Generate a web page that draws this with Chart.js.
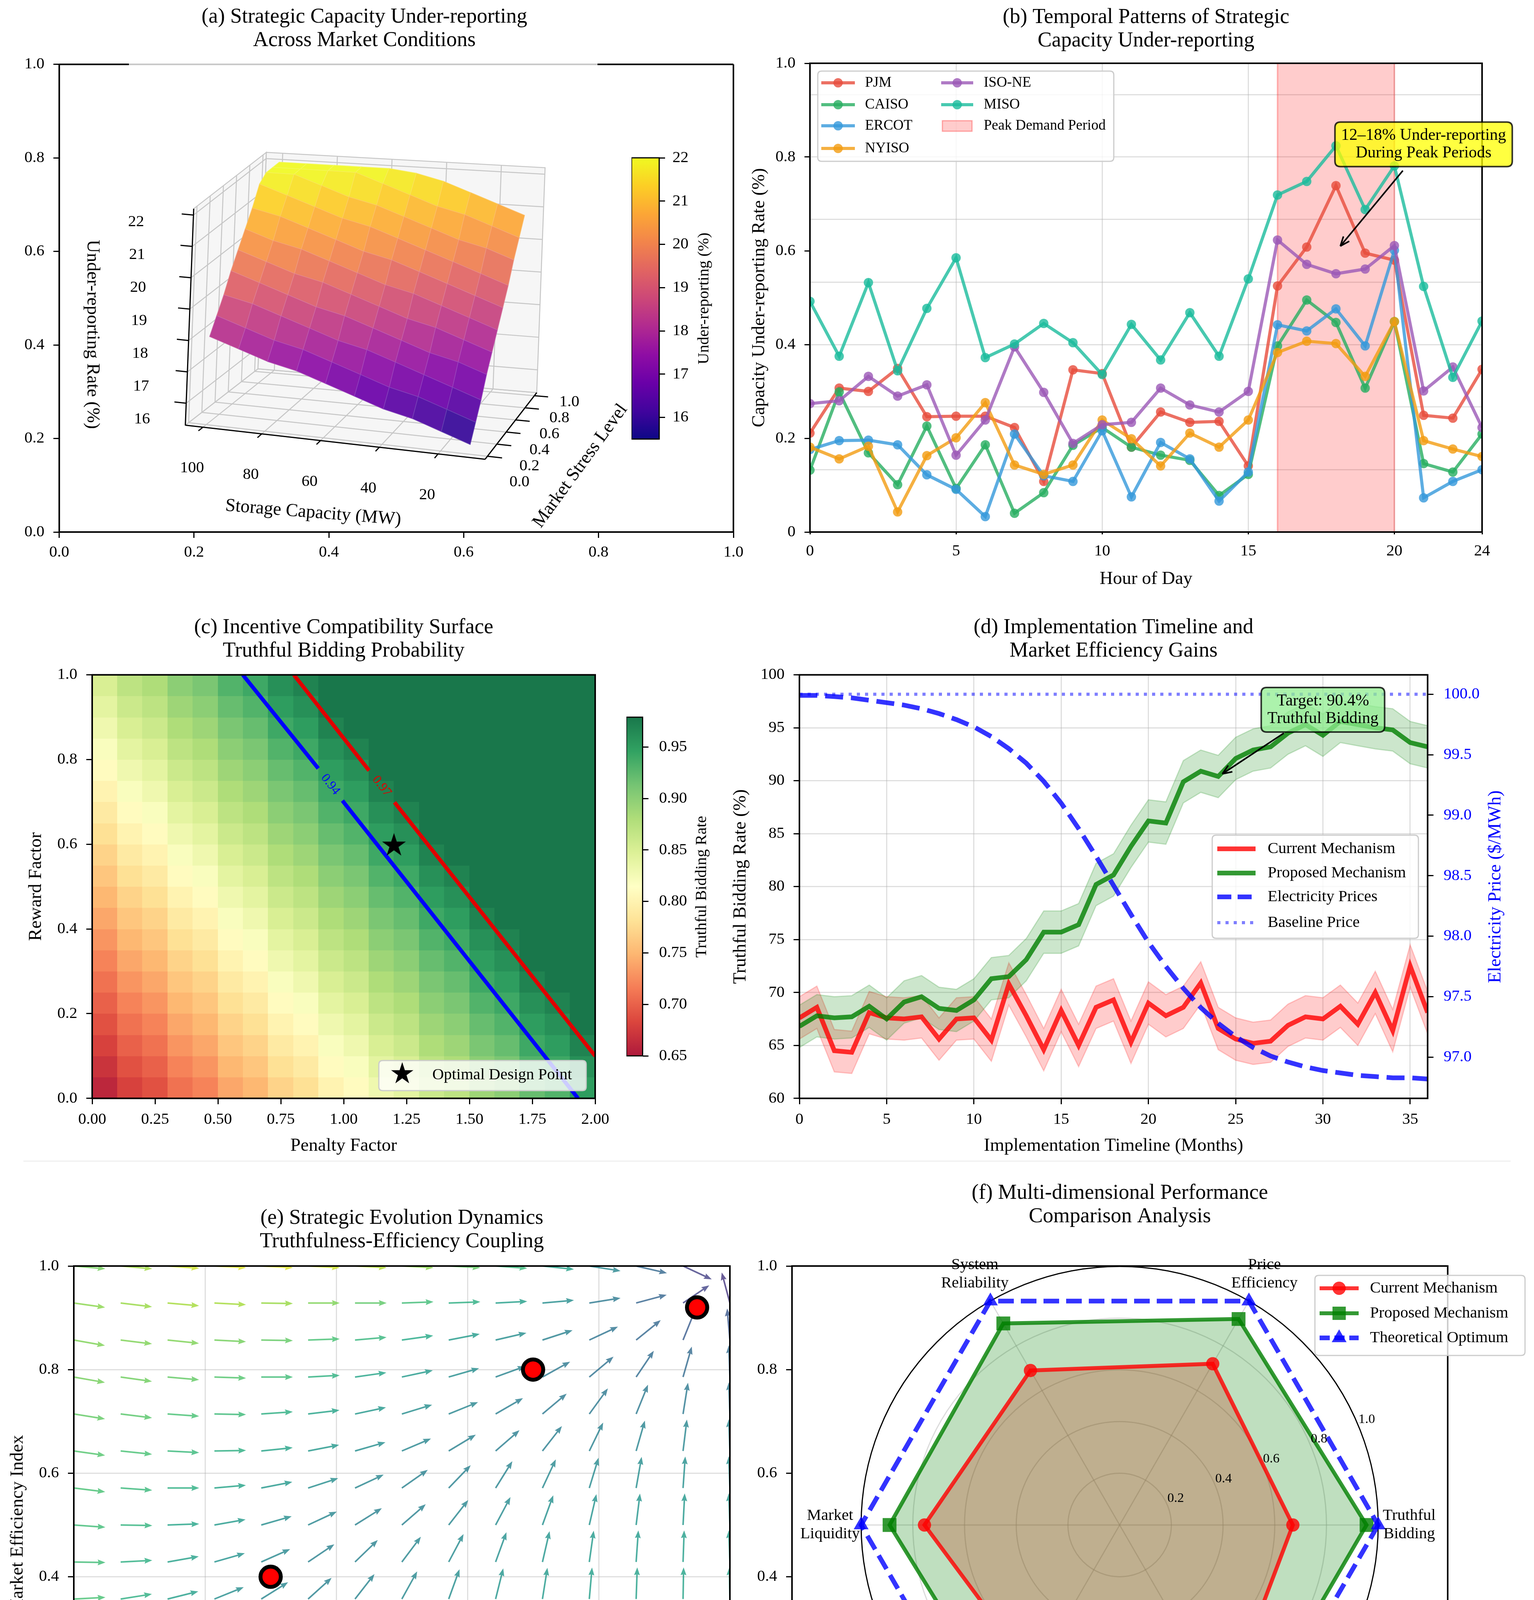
<!DOCTYPE html>
<html>
<head>
<meta charset="utf-8">
<title>Strategic capacity under-reporting and mechanism design</title>
<script src="https://cdn.jsdelivr.net/npm/chart.js@4.4.1/dist/chart.umd.min.js"></script>
<style>
  html, body { margin: 0; padding: 0; background: #ffffff; }
  body { position: relative; width: 3928px; height: 4733px; overflow: hidden; }
  canvas { position: absolute; }
  .rule { position: absolute; left: 60px; top: 2971px; width: 3808px; height: 3px; background: #f0f0f0; }
</style>
</head>
<body>
<div class="rule"></div>
<script>
// ---------------- data ----------------

// (a) under-reporting surface (%), rows = market stress, columns = storage capacity
const capacityMW = [10, 20, 30, 40, 50, 60, 70, 80, 90, 100];
const stressLevels = [0, 0.1, 0.2, 0.3, 0.4, 0.5, 0.6, 0.7, 0.8, 0.9, 1.0];
const underReporting = [
  [15.6, 15.9, 16.2, 16.4, 16.7, 17.0, 17.3, 17.5, 17.8, 18.1],
  [16.1, 16.4, 16.7, 16.9, 17.2, 17.5, 17.8, 18.0, 18.3, 18.6],
  [16.6, 16.9, 17.2, 17.5, 17.8, 18.0, 18.3, 18.6, 18.9, 19.1],
  [17.2, 17.5, 17.7, 18.0, 18.3, 18.6, 18.8, 19.1, 19.4, 19.7],
  [17.7, 18.0, 18.3, 18.5, 18.8, 19.1, 19.4, 19.6, 19.9, 20.2],
  [18.2, 18.5, 18.8, 19.1, 19.3, 19.6, 19.9, 20.2, 20.4, 20.7],
  [18.7, 19.0, 19.3, 19.6, 19.9, 20.1, 20.4, 20.7, 21.0, 21.2],
  [19.2, 19.5, 19.8, 20.1, 20.4, 20.7, 20.9, 21.2, 21.5, 21.8],
  [19.8, 20.1, 20.3, 20.6, 20.9, 21.2, 21.4, 21.7, 22.0, 22.0],
  [20.3, 20.6, 20.9, 21.1, 21.4, 21.7, 22.0, 22.0, 22.0, 22.0],
  [20.8, 21.1, 21.4, 21.7, 21.9, 22.0, 22.0, 22.0, 22.0, 22.0]
];
const capacityTicks = [20, 40, 60, 80, 100];
const stressTicks = [0, 0.2, 0.4, 0.6, 0.8, 1.0];
const surfaceTicksZ = [16, 17, 18, 19, 20, 21, 22];
const unitTicks = [0, 0.2, 0.4, 0.6, 0.8, 1.0];

// (b) hourly under-reporting by market
const hours = [0, 1, 2, 3, 4, 5, 6, 7, 8, 9, 10, 11, 12, 13, 14, 15, 16, 17, 18, 19, 20, 21, 22, 23];
const pjm   = [0.211, 0.307, 0.300, 0.349, 0.246, 0.247, 0.247, 0.223, 0.108, 0.346, 0.338, 0.181, 0.256, 0.234, 0.236, 0.141, 0.525, 0.608, 0.739, 0.595, 0.580, 0.249, 0.243, 0.347];
const caiso = [0.132, 0.299, 0.169, 0.101, 0.226, 0.093, 0.186, 0.040, 0.084, 0.185, 0.223, 0.181, 0.164, 0.153, 0.078, 0.123, 0.397, 0.495, 0.447, 0.307, 0.449, 0.146, 0.128, 0.209];
const ercot = [0.176, 0.195, 0.196, 0.186, 0.122, 0.091, 0.033, 0.209, 0.120, 0.108, 0.216, 0.075, 0.191, 0.156, 0.066, 0.128, 0.442, 0.429, 0.476, 0.397, 0.601, 0.073, 0.108, 0.133];
const nyiso = [0.181, 0.156, 0.183, 0.043, 0.163, 0.201, 0.276, 0.143, 0.123, 0.143, 0.239, 0.199, 0.141, 0.211, 0.181, 0.239, 0.383, 0.407, 0.402, 0.332, 0.449, 0.195, 0.177, 0.161];
const isoNe = [0.274, 0.280, 0.332, 0.290, 0.314, 0.164, 0.239, 0.395, 0.298, 0.189, 0.229, 0.234, 0.307, 0.271, 0.256, 0.300, 0.623, 0.571, 0.551, 0.561, 0.611, 0.301, 0.352, 0.223];
const miso  = [0.492, 0.375, 0.532, 0.344, 0.477, 0.585, 0.372, 0.401, 0.445, 0.404, 0.336, 0.443, 0.367, 0.468, 0.375, 0.540, 0.719, 0.748, 0.824, 0.688, 0.781, 0.524, 0.330, 0.450];
const peakStart = 16, peakEnd = 20;
const hourTicks = [0, 5, 10, 15, 20, 23];
const hourGridY = [0.1333, 0.2667, 0.4, 0.5333, 0.6667, 0.8, 0.9333];

// (c) truthful bidding probability, rows = reward factor bins (bottom first)
const penaltyEdges = [0, 0.1, 0.2, 0.3, 0.4, 0.5, 0.6, 0.7, 0.8, 0.9, 1.0, 1.1, 1.2, 1.3, 1.4, 1.5, 1.6, 1.7, 1.8, 1.9, 2.0];
const rewardEdges = [0, 0.05, 0.1, 0.15, 0.2, 0.25, 0.3, 0.35, 0.4, 0.45, 0.5, 0.55, 0.6, 0.65, 0.7, 0.75, 0.8, 0.85, 0.9, 0.95, 1.0];
const truthfulGrid = [
  [0.66, 0.68, 0.69, 0.71, 0.72, 0.74, 0.75, 0.77, 0.78, 0.80, 0.81, 0.83, 0.84, 0.86, 0.87, 0.89, 0.90, 0.92, 0.93, 0.95],
  [0.67, 0.69, 0.70, 0.72, 0.73, 0.75, 0.76, 0.78, 0.79, 0.81, 0.82, 0.84, 0.85, 0.87, 0.88, 0.90, 0.91, 0.93, 0.94, 0.96],
  [0.68, 0.70, 0.71, 0.73, 0.74, 0.76, 0.77, 0.79, 0.80, 0.82, 0.83, 0.85, 0.86, 0.88, 0.89, 0.91, 0.92, 0.94, 0.95, 0.97],
  [0.69, 0.71, 0.72, 0.74, 0.75, 0.77, 0.78, 0.80, 0.81, 0.83, 0.84, 0.86, 0.87, 0.89, 0.90, 0.92, 0.93, 0.95, 0.96, 0.98],
  [0.70, 0.72, 0.73, 0.75, 0.76, 0.78, 0.79, 0.81, 0.82, 0.84, 0.85, 0.87, 0.88, 0.90, 0.91, 0.93, 0.94, 0.96, 0.97, 0.98],
  [0.71, 0.73, 0.74, 0.76, 0.77, 0.79, 0.80, 0.82, 0.83, 0.85, 0.86, 0.88, 0.89, 0.91, 0.92, 0.94, 0.95, 0.97, 0.98, 0.98],
  [0.72, 0.74, 0.75, 0.77, 0.78, 0.80, 0.81, 0.83, 0.84, 0.86, 0.87, 0.89, 0.90, 0.92, 0.93, 0.95, 0.96, 0.98, 0.98, 0.98],
  [0.73, 0.75, 0.76, 0.78, 0.79, 0.81, 0.82, 0.84, 0.85, 0.87, 0.88, 0.90, 0.91, 0.93, 0.94, 0.96, 0.97, 0.98, 0.98, 0.98],
  [0.74, 0.76, 0.77, 0.79, 0.80, 0.82, 0.83, 0.85, 0.86, 0.88, 0.89, 0.91, 0.92, 0.94, 0.95, 0.97, 0.98, 0.98, 0.98, 0.98],
  [0.75, 0.77, 0.78, 0.80, 0.81, 0.83, 0.84, 0.86, 0.87, 0.89, 0.90, 0.92, 0.93, 0.95, 0.96, 0.98, 0.98, 0.98, 0.98, 0.98],
  [0.76, 0.78, 0.79, 0.81, 0.82, 0.84, 0.85, 0.87, 0.88, 0.90, 0.91, 0.93, 0.94, 0.96, 0.97, 0.98, 0.98, 0.98, 0.98, 0.98],
  [0.77, 0.79, 0.80, 0.82, 0.83, 0.85, 0.86, 0.88, 0.89, 0.91, 0.92, 0.94, 0.95, 0.97, 0.98, 0.98, 0.98, 0.98, 0.98, 0.98],
  [0.78, 0.80, 0.81, 0.83, 0.84, 0.86, 0.87, 0.89, 0.90, 0.92, 0.93, 0.95, 0.96, 0.98, 0.98, 0.98, 0.98, 0.98, 0.98, 0.98],
  [0.79, 0.81, 0.82, 0.84, 0.85, 0.87, 0.88, 0.90, 0.91, 0.93, 0.94, 0.96, 0.97, 0.98, 0.98, 0.98, 0.98, 0.98, 0.98, 0.98],
  [0.80, 0.82, 0.83, 0.85, 0.86, 0.88, 0.89, 0.91, 0.92, 0.94, 0.95, 0.97, 0.98, 0.98, 0.98, 0.98, 0.98, 0.98, 0.98, 0.98],
  [0.81, 0.83, 0.84, 0.86, 0.87, 0.89, 0.90, 0.92, 0.93, 0.95, 0.96, 0.98, 0.98, 0.98, 0.98, 0.98, 0.98, 0.98, 0.98, 0.98],
  [0.82, 0.84, 0.85, 0.87, 0.88, 0.90, 0.91, 0.93, 0.94, 0.96, 0.97, 0.98, 0.98, 0.98, 0.98, 0.98, 0.98, 0.98, 0.98, 0.98],
  [0.83, 0.85, 0.86, 0.88, 0.89, 0.91, 0.92, 0.94, 0.95, 0.97, 0.98, 0.98, 0.98, 0.98, 0.98, 0.98, 0.98, 0.98, 0.98, 0.98],
  [0.84, 0.86, 0.87, 0.89, 0.90, 0.92, 0.93, 0.95, 0.96, 0.98, 0.98, 0.98, 0.98, 0.98, 0.98, 0.98, 0.98, 0.98, 0.98, 0.98],
  [0.85, 0.87, 0.88, 0.90, 0.91, 0.93, 0.94, 0.96, 0.97, 0.98, 0.98, 0.98, 0.98, 0.98, 0.98, 0.98, 0.98, 0.98, 0.98, 0.98]
];
const contour094 = [[0.599, 1.0], [0.899, 0.779], null, [0.995, 0.703], [1.932, 0.0]];
const contour097 = [[0.802, 1.0], [1.101, 0.774], null, [1.202, 0.699], [2.0, 0.1]];
const optimalPoint = { x: 1.2, y: 0.6 };
const penaltyTicks = [0, 0.25, 0.5, 0.75, 1.0, 1.25, 1.5, 1.75, 2.0];
const rateTicks = [0.65, 0.70, 0.75, 0.80, 0.85, 0.90, 0.95];

// (d) 36-month rollout
const months = [0, 1, 2, 3, 4, 5, 6, 7, 8, 9, 10, 11, 12, 13, 14, 15, 16, 17, 18, 19, 20, 21, 22, 23, 24, 25, 26, 27, 28, 29, 30, 31, 32, 33, 34, 35, 36];
const currentRate  = [67.6, 68.6, 64.5, 64.35, 68.1, 67.6, 67.5, 67.7, 65.6, 67.5, 67.6, 65.5, 70.8, 67.8, 64.6, 68.3, 65.0, 68.6, 69.3, 65.3, 69.0, 67.8, 68.6, 70.9, 66.6, 65.6, 65.2, 65.4, 66.9, 67.7, 67.5, 68.7, 67.0, 70.0, 66.4, 72.5, 68.1];
const proposedRate = [66.8, 67.8, 67.6, 67.7, 68.7, 67.5, 69.1, 69.6, 68.5, 68.3, 69.3, 71.3, 71.5, 73.1, 75.7, 75.7, 76.4, 80.2, 81.1, 83.8, 86.2, 86.0, 89.9, 90.9, 90.4, 92.1, 92.9, 93.2, 94.5, 95.3, 94.3, 95.6, 95.3, 95.0, 94.8, 93.6, 93.2];
const electricityPrice = [99.99, 99.99, 99.98, 99.97, 99.95, 99.93, 99.91, 99.88, 99.84, 99.79, 99.73, 99.65, 99.55, 99.43, 99.28, 99.10, 98.89, 98.66, 98.42, 98.18, 97.95, 97.75, 97.57, 97.41, 97.28, 97.17, 97.08, 97.01, 96.96, 96.92, 96.89, 96.87, 96.85, 96.84, 96.83, 96.83, 96.82];
const baselinePrice = 100.0;
const bandHalfWidth = 2.0;
const monthTicks = [0, 5, 10, 15, 20, 25, 30, 35];
const rateTicksD = [60, 65, 70, 75, 80, 85, 90, 95, 100];
const priceTicks = [97.0, 97.5, 98.0, 98.5, 99.0, 99.5, 100.0];

// (e) direction field: screen angle (deg) and speed (0..1) on a 15 x 15 grid, rows bottom first
const gridPts = [0, 0.0714, 0.1429, 0.2143, 0.2857, 0.3571, 0.4286, 0.5, 0.5714, 0.6429, 0.7143, 0.7857, 0.8571, 0.9286, 1.0];
const flowAngle = [
  [37, 45, 55, 65, 76, 87, 96, 100, 104, 105, 103, 102, 100, 97, 92],
  [30, 38, 47, 57, 68, 80, 88, 95, 99, 102, 101, 100, 99, 96, 91],
  [24, 31, 39, 50, 60, 70, 78, 85, 91, 95, 97, 97, 96, 94, 91],
  [18, 23, 32, 42, 52, 62, 72, 80, 86, 90, 93, 95, 95, 94, 91],
  [10, 16, 24, 31, 42, 52, 61, 70, 77, 82, 86, 90, 93, 93, 91],
  [3, 9, 14, 22, 32, 42, 52, 61, 70, 76, 81, 85, 88, 89, 91],
  [-1, 3, 10, 16, 24, 34, 44, 53, 62, 70, 77, 82, 86, 88, 92],
  [-4, -1, 2, 10, 16, 25, 32, 41, 52, 62, 70, 77, 83, 87, 92],
  [-7, -4, 0, 5, 11, 18, 25, 35, 46, 58, 65, 73, 80, 86, 92],
  [-8, -6, -3, 1, 6, 11, 16, 23, 31, 41, 52, 64, 74, 83, 92],
  [-9, -7, -4, -1, 4, 7, 12, 17, 22, 30, 40, 54, 68, 81, 92],
  [-10, -8, -5, -2, 0, 3, 8, 12, 16, 20, 29, 40, 56, 74, 92],
  [-10, -7, -6, -3, -1, 2, 5, 8, 11, 13, 18, 25, 39, 68, 95],
  [-8, -7, -5, -3, -1, 0, 0, 2, 2, 3, 5, 9, 15, 34, 105],
  [-5, -5, -4, -3, -3, -3, -3, -3, -3, -4, -6, -9, -13, -25, null]
];
const flowSpeed = [
  [0.95, 0.85, 0.75, 0.65, 0.58, 0.55, 0.55, 0.56, 0.58, 0.60, 0.62, 0.63, 0.64, 0.65, 0.65],
  [0.85, 0.75, 0.66, 0.58, 0.52, 0.50, 0.50, 0.52, 0.55, 0.57, 0.60, 0.61, 0.62, 0.63, 0.63],
  [0.80, 0.70, 0.60, 0.52, 0.48, 0.46, 0.47, 0.50, 0.53, 0.56, 0.58, 0.60, 0.61, 0.62, 0.62],
  [0.75, 0.66, 0.56, 0.50, 0.46, 0.45, 0.46, 0.48, 0.52, 0.55, 0.57, 0.58, 0.60, 0.60, 0.60],
  [0.72, 0.63, 0.55, 0.48, 0.45, 0.44, 0.45, 0.47, 0.50, 0.53, 0.55, 0.57, 0.58, 0.58, 0.58],
  [0.70, 0.62, 0.55, 0.48, 0.45, 0.43, 0.44, 0.46, 0.48, 0.51, 0.53, 0.55, 0.56, 0.57, 0.57],
  [0.68, 0.62, 0.56, 0.50, 0.46, 0.43, 0.43, 0.45, 0.47, 0.49, 0.51, 0.53, 0.54, 0.55, 0.55],
  [0.68, 0.64, 0.58, 0.53, 0.48, 0.45, 0.43, 0.43, 0.45, 0.47, 0.49, 0.50, 0.51, 0.52, 0.52],
  [0.70, 0.66, 0.62, 0.57, 0.52, 0.48, 0.45, 0.43, 0.43, 0.44, 0.46, 0.47, 0.48, 0.49, 0.49],
  [0.72, 0.70, 0.66, 0.62, 0.57, 0.52, 0.48, 0.45, 0.43, 0.42, 0.42, 0.43, 0.44, 0.45, 0.45],
  [0.75, 0.73, 0.70, 0.67, 0.62, 0.57, 0.52, 0.48, 0.45, 0.42, 0.40, 0.40, 0.40, 0.40, 0.40],
  [0.78, 0.77, 0.75, 0.72, 0.68, 0.63, 0.58, 0.53, 0.48, 0.44, 0.40, 0.37, 0.35, 0.34, 0.35],
  [0.80, 0.80, 0.80, 0.78, 0.75, 0.70, 0.65, 0.60, 0.54, 0.48, 0.43, 0.38, 0.33, 0.28, 0.27],
  [0.82, 0.84, 0.86, 0.86, 0.84, 0.80, 0.74, 0.68, 0.62, 0.55, 0.48, 0.40, 0.32, 0.20, 0.15],
  [0.78, 0.85, 0.92, 0.95, 0.95, 0.92, 0.88, 0.82, 0.75, 0.66, 0.56, 0.45, 0.33, 0.18, 0.05]
];
const equilibriumX = [0.3, 0.7, 0.95];
const equilibriumY = [0.4, 0.8, 0.92];

// (f) performance comparison
const dimensions = ['Truthful\nBidding', 'Price\nEfficiency', 'System\nReliability', 'Market\nLiquidity', 'Operational\nCosts', 'Regulatory\nCompliance'];
const currentScores  = [0.67, 0.72, 0.69, 0.755, 0.66, 0.81];
const proposedScores = [0.955, 0.92, 0.90, 0.89, 0.86, 0.95];
const optimumScores  = [1.0, 1.0, 1.0, 1.0, 1.0, 1.0];
const radialTicks = [0, 0.2, 0.4, 0.6, 0.8, 1.0];

// ---------------- look and helpers ----------------
const FONT = "'Liberation Serif', 'Times New Roman', 'DejaVu Serif', serif";
const GRID = 'rgba(176,176,176,0.4)';

Chart.defaults.font.family = FONT;
Chart.defaults.font.size = 41;
Chart.defaults.color = '#000';
Chart.defaults.animation = false;
Chart.defaults.responsive = false;
Chart.defaults.maintainAspectRatio = false;
Chart.defaults.devicePixelRatio = 1;
Chart.defaults.events = [];
Chart.defaults.plugins.legend.display = false;
Chart.defaults.plugins.tooltip.enabled = false;
Chart.defaults.elements.line.tension = 0;

const PLASMA = ['#0d0887', '#41049d', '#6a00a8', '#8f0da4', '#b12a90', '#cc4778', '#e16462', '#f2844b', '#fca636', '#fcce25', '#f0f921'];
const VIRIDIS = ['#440154', '#482475', '#414487', '#355f8d', '#2a788e', '#21918c', '#22a884', '#44bf70', '#7ad151', '#bddf26', '#fde725'];
const RDYLGN = ['#a50026', '#d73027', '#f46d43', '#fdae61', '#fee08b', '#ffffbf', '#d9ef8b', '#a6d96a', '#66bd63', '#1a9850', '#006837'];

function hexRgb(h) { return [1, 3, 5].map(k => parseInt(h.slice(k, k + 2), 16)); }
function cmap(stops, t) {
  t = Math.max(0, Math.min(1, t));
  const n = stops.length - 1, f = t * n, i = Math.min(Math.floor(f), n - 1), u = f - i;
  const a = hexRgb(stops[i]), b = hexRgb(stops[i + 1]);
  return a.map((v, k) => v + (b[k] - v) * u);
}
function rgba(c, a) { return 'rgba(' + Math.round(c[0]) + ',' + Math.round(c[1]) + ',' + Math.round(c[2]) + ',' + a + ')'; }
function onWhite(c, a) { return rgba(c.map(v => v * a + 255 * (1 - a)), 1); }

function place(id, l, t, w, h) {
  const c = document.createElement('canvas');
  c.id = id;
  c.width = Math.round(w);
  c.height = Math.round(h);
  c.style.left = l + 'px';
  c.style.top = t + 'px';
  c.style.width = Math.round(w) + 'px';
  c.style.height = Math.round(h) + 'px';
  document.body.appendChild(c);
  return c;
}

function titleBlock(lines, padTop, padBottom, fullSize) {
  return { display: true, text: lines, fullSize: !!fullSize, color: '#000',
    font: { size: 54, weight: 'normal', lineHeight: 1.1 }, padding: { top: padTop, bottom: padBottom } };
}

function axis(o) {
  const vertical = o.pos === 'left' || o.pos === 'right';
  const tl = o.tickLen === undefined ? 15 : o.tickLen;
  return {
    type: 'linear', position: o.pos, min: o.min, max: o.max, bounds: 'data',
    afterBuildTicks: s => { s.ticks = o.ticks.map(v => ({ value: v })); },
    afterFit: s => { if (vertical) s.width = o.size; else s.height = o.size; },
    ticks: { callback: o.fmt, padding: o.pad === undefined ? (vertical ? 23 : 15) : o.pad,
      color: o.color || '#000', font: { size: 41 }, autoSkip: false, maxRotation: 0, minRotation: 0 },
    grid: { display: true, drawOnChartArea: !!o.grid, color: GRID, lineWidth: 3,
      drawTicks: tl > 0, tickLength: tl, tickColor: '#000', tickWidth: 3 },
    border: { display: false },
    title: o.title ? { display: true, text: o.title, color: '#000', font: { size: 47 },
      padding: { top: o.titlePad, bottom: o.titlePad } } : { display: false }
  };
}

Chart.register({
  id: 'frame',
  defaults: { display: true, width: 4, color: '#000' },
  afterDatasetsDraw(chart, args, o) {
    if (!o.display) return;
    const a = chart.chartArea, ctx = chart.ctx;
    ctx.save();
    ctx.strokeStyle = o.color;
    ctx.lineWidth = o.width;
    ctx.strokeRect(a.left, a.top, a.right - a.left, a.bottom - a.top);
    ctx.restore();
  }
});

function seg(ctx, p, q) { ctx.beginPath(); ctx.moveTo(p[0], p[1]); ctx.lineTo(q[0], q[1]); ctx.stroke(); }
function poly(ctx, pts, fill, stroke, lw) {
  ctx.beginPath();
  pts.forEach((p, i) => (i ? ctx.lineTo(p[0], p[1]) : ctx.moveTo(p[0], p[1])));
  ctx.closePath();
  if (fill) { ctx.fillStyle = fill; ctx.fill(); }
  if (stroke) { ctx.strokeStyle = stroke; ctx.lineWidth = lw || 1; ctx.stroke(); }
}
function write(ctx, str, x, y, o) {
  o = o || {};
  ctx.save();
  ctx.translate(x, y);
  if (o.rot) ctx.rotate(o.rot * Math.PI / 180);
  ctx.font = (o.weight || 'normal') + ' ' + (o.size || 41) + 'px ' + FONT;
  ctx.fillStyle = o.color || '#000';
  ctx.textAlign = o.align || 'center';
  ctx.textBaseline = o.baseline || 'middle';
  ctx.fillText(str, 0, 0);
  ctx.restore();
}
function roundRectPath(ctx, x, y, w, h, r) {
  ctx.beginPath();
  ctx.moveTo(x + r, y);
  ctx.lineTo(x + w - r, y); ctx.quadraticCurveTo(x + w, y, x + w, y + r);
  ctx.lineTo(x + w, y + h - r); ctx.quadraticCurveTo(x + w, y + h, x + w - r, y + h);
  ctx.lineTo(x + r, y + h); ctx.quadraticCurveTo(x, y + h, x, y + h - r);
  ctx.lineTo(x, y + r); ctx.quadraticCurveTo(x, y, x + r, y);
  ctx.closePath();
}
function legendFrame(ctx, x, y, w, h) {
  ctx.save();
  roundRectPath(ctx, x, y, w, h, 10);
  ctx.fillStyle = 'rgba(255,255,255,0.8)';
  ctx.fill();
  ctx.strokeStyle = '#cccccc';
  ctx.lineWidth = 3;
  ctx.stroke();
  ctx.restore();
}
function markerPath(ctx, kind, x, y, r) {
  ctx.beginPath();
  if (kind === 'circle') {
    ctx.arc(x, y, r, 0, Math.PI * 2);
  } else if (kind === 'square') {
    ctx.rect(x - r, y - r, 2 * r, 2 * r);
  } else if (kind === 'triangle') {
    ctx.moveTo(x, y - r); ctx.lineTo(x + 0.866 * r, y + 0.5 * r); ctx.lineTo(x - 0.866 * r, y + 0.5 * r);
  } else if (kind === 'star') {
    for (let k = 0; k < 10; k++) {
      const rr = k % 2 ? r * 0.382 : r, ang = -Math.PI / 2 + k * Math.PI / 5;
      const px = x + rr * Math.cos(ang), py = y + rr * Math.sin(ang);
      if (k) ctx.lineTo(px, py); else ctx.moveTo(px, py);
    }
  }
  ctx.closePath();
}
function lineHandle(ctx, x1, x2, y, o) {
  ctx.save();
  ctx.strokeStyle = o.color;
  ctx.lineWidth = o.lw;
  ctx.setLineDash(o.dash || []);
  seg(ctx, [x1, y], [x2, y]);
  ctx.setLineDash([]);
  if (o.marker) {
    markerPath(ctx, o.marker, (x1 + x2) / 2, y, o.r);
    ctx.fillStyle = o.markerColor || o.color;
    ctx.fill();
  }
  ctx.restore();
}
function arrowTo(ctx, x1, y1, x2, y2) {
  const ang = Math.atan2(y2 - y1, x2 - x1), hl = 26, spread = 0.38;
  ctx.save();
  ctx.strokeStyle = '#000';
  ctx.lineWidth = 4;
  seg(ctx, [x1, y1], [x2, y2]);
  seg(ctx, [x2, y2], [x2 - hl * Math.cos(ang - spread), y2 - hl * Math.sin(ang - spread)]);
  seg(ctx, [x2, y2], [x2 - hl * Math.cos(ang + spread), y2 - hl * Math.sin(ang + spread)]);
  ctx.restore();
}
function noteBox(ctx, cx, cy, hw, hh, fill, lines) {
  ctx.save();
  roundRectPath(ctx, cx - hw, cy - hh, 2 * hw, 2 * hh, 14);
  ctx.fillStyle = fill;
  ctx.fill();
  ctx.strokeStyle = 'rgba(0,0,0,0.8)';
  ctx.lineWidth = 4;
  ctx.stroke();
  ctx.restore();
  lines.forEach((ln, k) => write(ctx, ln, cx, cy + (k - (lines.length - 1) / 2) * 45, { size: 42 }));
}
function gradientPlugin(stops) {
  return {
    id: 'cbarFill',
    beforeDatasetsDraw(chart) {
      const a = chart.chartArea, ctx = chart.ctx;
      const g = ctx.createLinearGradient(0, a.bottom, 0, a.top);
      stops.forEach((s, i) => g.addColorStop(i / (stops.length - 1), s));
      ctx.save();
      ctx.fillStyle = g;
      ctx.fillRect(a.left, a.top, a.right - a.left, a.bottom - a.top);
      ctx.restore();
    }
  };
}
function textPlugin(items, ox, oy) {
  return {
    id: 'extraText',
    afterDraw(chart) { items.forEach(t => write(chart.ctx, t.text, t.x - ox, t.y - oy, t)); }
  };
}

// ---------------- (a) 3-D surface on a plain 0..1 frame ----------------
const Z_MIN = 15.5, Z_MAX = 22;
const BOX3 = { cap: [4, 106], s: [-0.05, 1.05], z: [15.3, 22.2] };
const VIEW = { x0: 0.6096, y0: 0.1871, cap: [-0.004359, 0.000715], s: [0.0713, 0.1283], z: [0.0018, 0.06956], capRef: 10, zRef: 15.6 };
// affine view with a mild perspective: capacity lines flatten and shorten towards the back and the top
function project(cap, s, z) {
  const dc = cap - VIEW.capRef, dz = z - VIEW.zRef;
  const sN = (s - BOX3.s[0]) / (BOX3.s[1] - BOX3.s[0]), zN = (z - BOX3.z[0]) / (BOX3.z[1] - BOX3.z[0]);
  const kx = 1 - 0.07 * sN, ky = 1 - 0.3 * sN - 0.25 * zN;
  return [VIEW.x0 + VIEW.cap[0] * dc * kx + VIEW.s[0] * s + VIEW.z[0] * dz,
          VIEW.y0 + VIEW.cap[1] * dc * ky + VIEW.s[1] * s + VIEW.z[1] * dz];
}

const aLeft = -12;
const surfacePlugin = {
  id: 'surface3d',
  afterDraw(chart) {
    const ctx = chart.ctx, sx = chart.scales.x, sy = chart.scales.y, A = chart.chartArea;
    const P = (c, s, z) => { const q = project(c, s, z); return [sx.getPixelForValue(q[0]), sy.getPixelForValue(q[1])]; };
    const [c0, c1] = BOX3.cap, [s0, s1] = BOX3.s, [z0, z1] = BOX3.z;
    ctx.save();
    ctx.lineCap = 'butt';

    // outer frame; its top edge sits behind the 3-D axes
    ctx.strokeStyle = '#000';
    ctx.lineWidth = 4;
    ctx.beginPath();
    ctx.moveTo(A.left, A.top); ctx.lineTo(A.left, A.bottom); ctx.lineTo(A.right, A.bottom); ctx.lineTo(A.right, A.top);
    ctx.stroke();
    const h1 = 330 - aLeft, h2 = 1530 - aLeft;
    seg(ctx, [A.left, A.top], [h1, A.top]);
    seg(ctx, [h2, A.top], [A.right, A.top]);
    ctx.strokeStyle = 'rgba(0,0,0,0.22)';
    seg(ctx, [h1, A.top], [h2, A.top]);

    // panes
    const paneFill = 'rgba(242,242,242,0.7)', paneLine = 'rgb(198,198,198)';
    poly(ctx, [P(c0, s0, z0), P(c1, s0, z0), P(c1, s1, z0), P(c0, s1, z0)], paneFill, paneLine, 2.5);
    poly(ctx, [P(c0, s1, z0), P(c1, s1, z0), P(c1, s1, z1), P(c0, s1, z1)], paneFill, paneLine, 2.5);
    poly(ctx, [P(c1, s0, z0), P(c1, s1, z0), P(c1, s1, z1), P(c1, s0, z1)], paneFill, paneLine, 2.5);
    ctx.strokeStyle = paneLine;
    ctx.lineWidth = 2.5;
    capacityTicks.forEach(c => { seg(ctx, P(c, s0, z0), P(c, s1, z0)); seg(ctx, P(c, s1, z0), P(c, s1, z1)); });
    stressTicks.forEach(s => { seg(ctx, P(c0, s, z0), P(c1, s, z0)); seg(ctx, P(c1, s, z0), P(c1, s, z1)); });
    surfaceTicksZ.forEach(z => { seg(ctx, P(c0, s1, z), P(c1, s1, z)); seg(ctx, P(c1, s0, z), P(c1, s1, z)); });

    // axis lines
    ctx.strokeStyle = '#000';
    ctx.lineWidth = 3;
    seg(ctx, P(c0, s0, z0), P(c1, s0, z0));
    seg(ctx, P(c0, s0, z0), P(c0, s1, z0));
    seg(ctx, P(c1, s0, z0), P(c1, s0, z1));

    // surface, far facets first
    for (let j = stressLevels.length - 2; j >= 0; j--) {
      for (let i = capacityMW.length - 2; i >= 0; i--) {
        const zs = [underReporting[j][i], underReporting[j][i + 1], underReporting[j + 1][i + 1], underReporting[j + 1][i]];
        const zm = (zs[0] + zs[1] + zs[2] + zs[3]) / 4;
        const col = onWhite(cmap(PLASMA, (zm - Z_MIN) / (Z_MAX - Z_MIN)), 0.92);
        const pts = [P(capacityMW[i], stressLevels[j], zs[0]), P(capacityMW[i + 1], stressLevels[j], zs[1]),
                     P(capacityMW[i + 1], stressLevels[j + 1], zs[2]), P(capacityMW[i], stressLevels[j + 1], zs[3])];
        poly(ctx, pts, col, col, 1.5);
        poly(ctx, pts, null, 'rgba(255,255,255,0.2)', 1.5);
      }
    }

    // ticks and tick labels
    ctx.strokeStyle = '#000';
    ctx.lineWidth = 3;
    capacityTicks.forEach(c => {
      const p = P(c, s0, z0);
      seg(ctx, p, P(c, s0 - 0.07, z0));
      write(ctx, String(c), p[0] - 28, p[1] + 105, { size: 41 });
    });
    stressTicks.forEach(s => {
      const p = P(c0, s, z0);
      seg(ctx, p, P(c0 - 5, s, z0));
      write(ctx, s.toFixed(1), p[0] + 82 + 7.6 * s, p[1] + 66.6 - 50 * s, { size: 41 });
    });
    surfaceTicksZ.forEach(z => {
      const p = P(c1, s0, z), f = (z - 16) / 6;
      seg(ctx, p, P(c1 + 4, s0, z));
      write(ctx, String(z), p[0] - 113 - 34 * f, p[1] + 41 - 23 * f, { size: 41 });
    });
    write(ctx, 'Storage Capacity (MW)', 802 - aLeft, 1313, { size: 47, rot: 4.6 });
    write(ctx, 'Market Stress Level', 1486 - aLeft, 1193, { size: 47, rot: -54 });
    write(ctx, 'Under-reporting Rate (%)', 236 - aLeft, 856, { size: 47, rot: 90 });
    ctx.restore();
  }
};

new Chart(place('panelA', aLeft, 0, 1940, 1452), {
  type: 'scatter',
  data: { datasets: [{ data: [] }] },
  options: {
    layout: { padding: { left: 0, top: 0, right: 50, bottom: 0 } },
    plugins: {
      frame: { display: false },
      title: titleBlock(['(a) Strategic Capacity Under-reporting', 'Across Market Conditions'], 14.3, 31.6, true)
    },
    scales: {
      x: axis({ pos: 'bottom', min: 0, max: 1, ticks: unitTicks, fmt: v => v.toFixed(1), size: 90, pad: 13 }),
      y: axis({ pos: 'left', min: 0, max: 1, ticks: unitTicks, fmt: v => v.toFixed(1), size: 163.7 })
    }
  },
  plugins: [surfacePlugin]
});

// colour bar of (a)
new Chart(place('cbarA', 1617, 344, 233, 840), {
  type: 'scatter',
  data: { datasets: [{ data: [] }] },
  options: {
    layout: { padding: { left: 0, right: 0, top: 60, bottom: 60 } },
    plugins: { frame: { width: 3 } },
    scales: {
      x: { display: false, min: 0, max: 1 },
      y: axis({ pos: 'right', min: Z_MIN, max: Z_MAX, ticks: surfaceTicksZ, fmt: v => String(v), size: 162, pad: 19 })
    }
  },
  plugins: [gradientPlugin(PLASMA), textPlugin([{ text: 'Under-reporting (%)', x: 1803, y: 764, size: 41, rot: -90 }], 1617, 344)]
});

// ---------------- (b) hourly patterns ----------------
const bSeries = [
  { label: 'PJM', data: pjm, color: [231, 76, 60] },
  { label: 'CAISO', data: caiso, color: [39, 174, 96] },
  { label: 'ERCOT', data: ercot, color: [52, 152, 219] },
  { label: 'NYISO', data: nyiso, color: [243, 156, 18] },
  { label: 'ISO-NE', data: isoNe, color: [155, 89, 182] },
  { label: 'MISO', data: miso, color: [26, 188, 156] }
];
const peakNote = { lines: ['12\u201318% Under-reporting', 'During Peak Periods'], at: [21.0, 0.827], from: [20.29, 0.771], to: [18.15, 0.61] };
const bLeft = 1880, bTop = 0;

const peakPlugin = {
  id: 'peakSpan',
  beforeDatasetsDraw(chart) {
    const x = chart.scales.x, a = chart.chartArea, ctx = chart.ctx;
    const x1 = x.getPixelForValue(peakStart), x2 = x.getPixelForValue(peakEnd);
    ctx.save();
    ctx.fillStyle = 'rgba(255,0,0,0.2)';
    ctx.fillRect(x1, a.top, x2 - x1, a.bottom - a.top);
    ctx.strokeStyle = 'rgba(255,0,0,0.25)';
    ctx.lineWidth = 4;
    seg(ctx, [x1, a.top], [x1, a.bottom]);
    seg(ctx, [x2, a.top], [x2, a.bottom]);
    ctx.restore();
  }
};
const bOverlay = {
  id: 'bOverlay',
  afterDraw(chart) {
    const ctx = chart.ctx, ox = bLeft, oy = bTop;
    legendFrame(ctx, 2094 - ox, 182 - oy, 758, 231);
    const rows = [212, 268, 322, 380];
    bSeries.forEach((s, k) => {
      const col = k < 4 ? 0 : 1, row = k < 4 ? k : k - 4;
      const hx = col ? [2410, 2492] : [2103, 2189], tx = col ? 2519 : 2215;
      lineHandle(ctx, hx[0] - ox, hx[1] - ox, rows[row] - oy, { color: rgba(s.color, 0.8), lw: 8, marker: 'circle', r: 12 });
      write(ctx, s.label, tx - ox, rows[row] - oy, { size: 37, align: 'left' });
    });
    ctx.save();
    ctx.fillStyle = 'rgba(255,0,0,0.2)';
    ctx.fillRect(2413 - ox, 309 - oy, 76, 27);
    ctx.strokeStyle = 'rgba(255,0,0,0.3)';
    ctx.lineWidth = 3;
    ctx.strokeRect(2413 - ox, 309 - oy, 76, 27);
    ctx.restore();
    write(ctx, 'Peak Demand Period', 2519 - ox, 322 - oy, { size: 37, align: 'left' });

    const x = chart.scales.x, y = chart.scales.y;
    arrowTo(ctx, x.getPixelForValue(peakNote.from[0]), y.getPixelForValue(peakNote.from[1]),
                 x.getPixelForValue(peakNote.to[0]), y.getPixelForValue(peakNote.to[1]));
    noteBox(ctx, x.getPixelForValue(peakNote.at[0]), y.getPixelForValue(peakNote.at[1]), 227, 57, 'rgba(255,255,0,0.75)', peakNote.lines);
  }
};

new Chart(place('panelB', bLeft, bTop, 2048, 1530), {
  type: 'line',
  data: {
    datasets: bSeries.map((s, k) => ({
      label: s.label,
      data: hours.map((h, i) => ({ x: h, y: s.data[i] })),
      yAxisID: 'y',
      borderColor: rgba(s.color, 0.8),
      backgroundColor: rgba(s.color, 0.8),
      pointBackgroundColor: rgba(s.color, 0.8),
      borderWidth: 8,
      pointRadius: 12,
      pointBorderWidth: 0,
      fill: false,
      clip: 0,
      order: bSeries.length - k
    }))
  },
  options: {
    layout: { padding: { left: 0, top: 0, right: 133, bottom: 0 } },
    plugins: { title: titleBlock(['(b) Temporal Patterns of Strategic', 'Capacity Under-reporting'], 15.3, 27.9, false) },
    scales: {
      x: axis({ pos: 'bottom', min: 0, max: 23, ticks: hourTicks, fmt: v => (v === 23 ? '24' : String(v)), size: 168, grid: true,
                tickLen: 6, pad: 19, title: 'Hour of Day', titlePad: 18.8 }),
      y: axis({ pos: 'left', min: 0, max: 1, ticks: unitTicks, fmt: v => (v === 0 ? '0' : v.toFixed(1)), size: 194, tickLen: 14,
                title: 'Capacity Under-reporting Rate (%)', titlePad: 36.8 }),
      yg: {
        type: 'linear', position: 'left', min: 0, max: 1, bounds: 'data',
        afterBuildTicks: s => { s.ticks = hourGridY.map(v => ({ value: v })); },
        afterFit: s => { s.width = 0; },
        ticks: { display: false },
        grid: { drawOnChartArea: true, drawTicks: false, color: GRID, lineWidth: 3 },
        border: { display: false }
      }
    }
  },
  plugins: [peakPlugin, bOverlay]
});

// ---------------- (c) incentive compatibility heat map ----------------
const RATE_MIN = 0.65, RATE_MAX = 0.979;
const cLeft = 20, cTop = 1540;
function starImage(r) {
  const c = document.createElement('canvas');
  const s = Math.ceil(2 * r + 6);
  c.width = s; c.height = s;
  const g = c.getContext('2d');
  markerPath(g, 'star', s / 2, s / 2 + r * 0.1, r);
  g.fillStyle = '#000';
  g.fill();
  return c;
}
const heatPlugin = {
  id: 'heat',
  beforeDatasetsDraw(chart) {
    const x = chart.scales.x, y = chart.scales.y, ctx = chart.ctx;
    ctx.save();
    truthfulGrid.forEach((row, j) => {
      row.forEach((v, i) => {
        const xa = Math.floor(x.getPixelForValue(penaltyEdges[i])), xb = Math.ceil(x.getPixelForValue(penaltyEdges[i + 1]));
        const ya = Math.floor(y.getPixelForValue(rewardEdges[j + 1])), yb = Math.ceil(y.getPixelForValue(rewardEdges[j]));
        ctx.fillStyle = onWhite(cmap(RDYLGN, (v - RATE_MIN) / (RATE_MAX - RATE_MIN)), 0.9);
        ctx.fillRect(xa, ya, xb - xa, yb - ya);
      });
    });
    ctx.restore();
  }
};
const cOverlay = {
  id: 'cOverlay',
  afterDraw(chart) {
    const ctx = chart.ctx, x = chart.scales.x, y = chart.scales.y;
    write(ctx, '0.94', x.getPixelForValue(0.947), y.getPixelForValue(0.741), { size: 33, color: '#0000ff', rot: 51.7 });
    write(ctx, '0.97', x.getPixelForValue(1.151), y.getPixelForValue(0.737), { size: 33, color: '#e00000', rot: 51.6 });
    legendFrame(ctx, 970 - cLeft, 2715 - cTop, 531, 77);
    markerPath(ctx, 'star', 1030 - cLeft, 2749 - cTop, 30);
    ctx.fillStyle = '#000';
    ctx.fill();
    write(ctx, 'Optimal Design Point', 1107 - cLeft, 2752 - cTop, { size: 41, align: 'left' });
  }
};
const toXY = p => (p ? { x: p[0], y: p[1] } : { x: 1, y: null });

new Chart(place('panelC', cLeft, cTop, 1563.5, 1435), {
  type: 'line',
  data: {
    datasets: [
      { data: contour094.map(toXY), borderColor: '#0000ff', borderWidth: 10, pointRadius: 0, spanGaps: false, fill: false, clip: 0, order: 2 },
      { data: contour097.map(toXY), borderColor: '#e00000', borderWidth: 10, pointRadius: 0, spanGaps: false, fill: false, clip: 0, order: 1 },
      { type: 'scatter', data: [optimalPoint], pointStyle: starImage(32), pointRadius: 32, order: 0 }
    ]
  },
  options: {
    layout: { padding: { left: 0, top: 0, right: 60, bottom: 0 } },
    plugins: { title: titleBlock(['(c) Incentive Compatibility Surface', 'Truthful Bidding Probability'], 37.3, 31.5, false) },
    scales: {
      x: axis({ pos: 'bottom', min: 0, max: 2, ticks: penaltyTicks, fmt: v => v.toFixed(2), size: 163.2, title: 'Penalty Factor', titlePad: 12.8 }),
      y: axis({ pos: 'left', min: 0, max: 1, ticks: unitTicks, fmt: v => v.toFixed(1), size: 216, title: 'Reward Factor', titlePad: 44.8 })
    }
  },
  plugins: [heatPlugin, cOverlay]
});

// colour bar of (c)
new Chart(place('cbarC', 1604, 1776, 256, 987), {
  type: 'scatter',
  data: { datasets: [{ data: [] }] },
  options: {
    layout: { padding: { left: 0, right: 0, top: 60, bottom: 60 } },
    plugins: { frame: { width: 3 } },
    scales: {
      x: { display: false, min: 0, max: 1 },
      y: axis({ pos: 'right', min: RATE_MIN, max: RATE_MAX, ticks: rateTicks, fmt: v => v.toFixed(2), size: 214.5, pad: 27 })
    }
  },
  plugins: [gradientPlugin(RDYLGN.map(h => onWhite(hexRgb(h), 0.9))),
            textPlugin([{ text: 'Truthful Bidding Rate', x: 1797, y: 2270, size: 41, rot: -90 }], 1604, 1776)]
});

// ---------------- (d) implementation timeline ----------------
const targetNote = { lines: ['Target: 90.4%', 'Truthful Bidding'], at: [30.0, 96.7], from: [27.76, 94.49], to: [24.24, 90.65] };
const dLeft = 1840, dTop = 1540;
const dOverlay = {
  id: 'dOverlay',
  afterDraw(chart) {
    const ctx = chart.ctx, x = chart.scales.x, y = chart.scales.y, ox = dLeft, oy = dTop;
    arrowTo(ctx, x.getPixelForValue(targetNote.from[0]), y.getPixelForValue(targetNote.from[1]),
                 x.getPixelForValue(targetNote.to[0]), y.getPixelForValue(targetNote.to[1]));
    noteBox(ctx, x.getPixelForValue(targetNote.at[0]), y.getPixelForValue(targetNote.at[1]), 158, 57, 'rgba(144,238,144,0.75)', targetNote.lines);
    legendFrame(ctx, 3104 - ox, 2138 - oy, 528, 264);
    const items = [
      { text: 'Current Mechanism', y: 2173, o: { color: 'rgba(255,0,0,0.8)', lw: 12 } },
      { text: 'Proposed Mechanism', y: 2235, o: { color: 'rgba(0,128,0,0.8)', lw: 12 } },
      { text: 'Electricity Prices', y: 2296, o: { color: 'rgba(0,0,255,0.8)', lw: 12, dash: [36, 16] } },
      { text: 'Baseline Price', y: 2362, o: { color: 'rgba(0,0,255,0.5)', lw: 8, dash: [8, 13] } }
    ];
    items.forEach(it => {
      lineHandle(ctx, 3117 - ox, 3215 - ox, it.y - oy, it.o);
      write(ctx, it.text, 3246 - ox, it.y - oy, { size: 41, align: 'left' });
    });
    write(ctx, 'Electricity Price ($/MWh)', 3830 - ox, 2270 - oy, { size: 47, rot: -90, color: '#0000ff' });
  }
};

new Chart(place('panelD', dLeft, dTop, 2050, 1435), {
  type: 'line',
  data: {
    datasets: [
      { data: months.map((m, i) => ({ x: m, y: currentRate[i] + bandHalfWidth })), yAxisID: 'y', fill: '+1',
        backgroundColor: 'rgba(255,0,0,0.2)', borderColor: 'rgba(255,0,0,0.2)', borderWidth: 3, pointRadius: 0, order: 9 },
      { data: months.map((m, i) => ({ x: m, y: currentRate[i] - bandHalfWidth })), yAxisID: 'y', fill: false,
        borderColor: 'rgba(255,0,0,0.2)', borderWidth: 3, pointRadius: 0, order: 9 },
      { data: months.map((m, i) => ({ x: m, y: proposedRate[i] + bandHalfWidth })), yAxisID: 'y', fill: '+1',
        backgroundColor: 'rgba(0,128,0,0.2)', borderColor: 'rgba(0,128,0,0.2)', borderWidth: 3, pointRadius: 0, order: 8 },
      { data: months.map((m, i) => ({ x: m, y: proposedRate[i] - bandHalfWidth })), yAxisID: 'y', fill: false,
        borderColor: 'rgba(0,128,0,0.2)', borderWidth: 3, pointRadius: 0, order: 8 },
      { label: 'Current Mechanism', data: months.map((m, i) => ({ x: m, y: currentRate[i] })), yAxisID: 'y', fill: false,
        borderColor: 'rgba(255,0,0,0.8)', borderWidth: 12, pointRadius: 0, order: 5 },
      { label: 'Proposed Mechanism', data: months.map((m, i) => ({ x: m, y: proposedRate[i] })), yAxisID: 'y', fill: false,
        borderColor: 'rgba(0,128,0,0.8)', borderWidth: 12, pointRadius: 0, order: 4 },
      { label: 'Baseline Price', data: [{ x: months[0], y: baselinePrice }, { x: months[months.length - 1], y: baselinePrice }], yAxisID: 'y1',
        fill: false, borderColor: 'rgba(0,0,255,0.5)', borderWidth: 8, borderDash: [8, 13], pointRadius: 0, order: 1 },
      { label: 'Electricity Prices', data: months.map((m, i) => ({ x: m, y: electricityPrice[i] })), yAxisID: 'y1', fill: false,
        borderColor: 'rgba(0,0,255,0.8)', borderWidth: 12, borderDash: [46, 20], pointRadius: 0, order: 0 }
    ]
  },
  options: {
    layout: { padding: { left: 0, top: 0, right: 0, bottom: 0 } },
    plugins: { title: titleBlock(['(d) Implementation Timeline and', 'Market Efficiency Gains'], 37.3, 31.5, false) },
    scales: {
      x: axis({ pos: 'bottom', min: 0, max: 36, ticks: monthTicks, fmt: v => String(v), size: 163.2, grid: true,
                title: 'Implementation Timeline (Months)', titlePad: 12.8 }),
      y: axis({ pos: 'left', min: 60, max: 100, ticks: rateTicksD, fmt: v => String(v), size: 207, grid: true,
                title: 'Truthful Bidding Rate (%)', titlePad: 28.8 }),
      y1: axis({ pos: 'right', min: 96.66, max: 100.16, ticks: priceTicks, fmt: v => v.toFixed(1), size: 234.4, pad: 26, color: '#0000ff' })
    }
  },
  plugins: [dOverlay]
});

// ---------------- (e) direction field ----------------
const eLeft = 0, eTop = 3050;
function quiverArrow(ctx, x, y, deg, len, color) {
  const w = 2, hw = 7.5, hl = 20, ha = 18;
  ctx.save();
  ctx.translate(x, y);
  ctx.rotate(-deg * Math.PI / 180);
  ctx.beginPath();
  ctx.moveTo(0, -w); ctx.lineTo(len - ha, -w); ctx.lineTo(len - hl, -hw); ctx.lineTo(len, 0);
  ctx.lineTo(len - hl, hw); ctx.lineTo(len - ha, w); ctx.lineTo(0, w);
  ctx.closePath();
  ctx.fillStyle = color;
  ctx.fill();
  ctx.restore();
}
const quiverPlugin = {
  id: 'quiver',
  beforeDatasetsDraw(chart) {
    const ctx = chart.ctx, x = chart.scales.x, y = chart.scales.y, a = chart.chartArea;
    ctx.save();
    ctx.beginPath();
    ctx.rect(a.left, a.top, a.right - a.left, a.bottom - a.top);
    ctx.clip();
    flowAngle.forEach((row, j) => row.forEach((deg, i) => {
      if (deg === null) return;
      quiverArrow(ctx, x.getPixelForValue(gridPts[i]), y.getPixelForValue(gridPts[j]), deg, 81,
                  rgba(cmap(VIRIDIS, flowSpeed[j][i]), 0.8));
    }));
    ctx.restore();
  }
};
const eOverlay = {
  id: 'eOverlay',
  afterDraw(chart) {
    const ctx = chart.ctx;
    legendFrame(ctx, 1356 - eLeft, 4468 - eTop, 491, 74);
    markerPath(ctx, 'circle', 1418 - eLeft, 4505 - eTop, 26);
    ctx.fillStyle = '#ff0000';
    ctx.fill();
    ctx.strokeStyle = '#000';
    ctx.lineWidth = 10;
    ctx.stroke();
    write(ctx, 'Equilibrium Points', 1496 - eLeft, 4505 - eTop, { size: 41, align: 'left' });
  }
};

new Chart(place('panelE', eLeft, eTop, 1919, 1683), {
  type: 'scatter',
  data: {
    datasets: [{
      label: 'Equilibrium Points',
      data: equilibriumX.map((v, i) => ({ x: v, y: equilibriumY[i] })),
      pointStyle: 'circle', pointRadius: 26, pointBorderWidth: 10,
      pointBackgroundColor: '#ff0000', pointBorderColor: '#000000'
    }]
  },
  options: {
    layout: { padding: { left: 0, top: 0, right: 50, bottom: 0 } },
    plugins: { title: titleBlock(['(e) Strategic Evolution Dynamics', 'Truthfulness-Efficiency Coupling'], 39.3, 32.9, false) },
    scales: {
      x: axis({ pos: 'bottom', min: 0, max: 1, ticks: unitTicks, fmt: v => v.toFixed(1), size: 166, grid: true,
                title: 'Truthful Bidding Rate', titlePad: 16.8 }),
      y: axis({ pos: 'left', min: 0, max: 1, ticks: unitTicks, fmt: v => v.toFixed(1), size: 189, grid: true,
                title: 'Market Efficiency Index', titlePad: 17.8 })
    }
  },
  plugins: [quiverPlugin, eOverlay]
});

// ---------------- (f) radar over a plain 0..1 frame ----------------
const radarOrder = [0, 5, 4, 3, 2, 1];   // Chart.js runs clockwise from the right
const reorder = arr => radarOrder.map(i => arr[i]);
const radarText = {
  id: 'radarText',
  afterDraw(chart) {
    const r = chart.scales.r, ctx = chart.ctx, R = r.drawingArea;
    radarOrder.forEach((src, i) => {
      const p = r.getPointPosition(i, R * 1.12);
      const lines = dimensions[src].split('\n');
      lines.forEach((ln, k) => write(ctx, ln, p.x, p.y + (k - (lines.length - 1) / 2) * 47, { size: 41 }));
    });
    const a = 22.5 * Math.PI / 180;
    radialTicks.slice(1).forEach(v => {
      const d = r.getDistanceFromCenterForValue(v);
      write(ctx, v.toFixed(1), r.xCenter + d * Math.cos(a), r.yCenter - d * Math.sin(a), { size: 34, align: 'left', baseline: 'bottom' });
    });
  }
};

new Chart(place('panelFradar', 1905, 2942, 1924, 1924), {
  type: 'radar',
  data: {
    labels: reorder(dimensions),
    datasets: [
      { label: 'Current Mechanism', data: reorder(currentScores), borderColor: 'rgba(255,0,0,0.8)', backgroundColor: 'rgba(255,0,0,0.25)',
        borderWidth: 10, fill: true, pointStyle: 'circle', pointRadius: 17, pointBorderWidth: 0, pointBackgroundColor: 'rgba(255,0,0,0.8)', order: 2 },
      { label: 'Proposed Mechanism', data: reorder(proposedScores), borderColor: 'rgba(0,128,0,0.8)', backgroundColor: 'rgba(0,128,0,0.25)',
        borderWidth: 10, fill: true, pointStyle: 'rect', pointRadius: 25, pointBorderWidth: 0, pointBackgroundColor: 'rgba(0,128,0,0.8)', order: 1 },
      { label: 'Theoretical Optimum', data: reorder(optimumScores), borderColor: 'rgba(0,0,255,0.8)', borderDash: [40, 18],
        borderWidth: 12, fill: false, pointStyle: 'triangle', pointRadius: 22, pointBorderWidth: 0, pointBackgroundColor: 'rgba(0,0,255,0.8)', order: 0 }
    ]
  },
  options: {
    layout: { padding: 300 },
    plugins: { frame: { display: false }, filler: { drawTime: 'beforeDatasetsDraw' } },
    scales: {
      r: {
        min: 0, max: 1, startAngle: 90,
        afterBuildTicks: s => { s.ticks = radialTicks.map(v => ({ value: v })); },
        ticks: { display: false },
        pointLabels: { display: false },
        grid: { circular: true, lineWidth: 3, color: c => (c.tick && c.tick.value === 1 ? '#000000' : 'rgba(176,176,176,0.45)') },
        angleLines: { color: 'rgba(176,176,176,0.45)', lineWidth: 3 }
      }
    }
  },
  plugins: [radarText]
});

const fLeft = 1900, fTop = 2990;
const fOverlay = {
  id: 'fOverlay',
  afterDraw(chart) {
    const ctx = chart.ctx, ox = fLeft, oy = fTop;
    legendFrame(ctx, 3367 - ox, 3265 - oy, 538, 205);
    const items = [
      { text: 'Current Mechanism', y: 3298, o: { color: 'rgba(255,0,0,0.8)', lw: 10, marker: 'circle', r: 17 } },
      { text: 'Proposed Mechanism', y: 3362, o: { color: 'rgba(0,128,0,0.8)', lw: 10, marker: 'square', r: 17 } },
      { text: 'Theoretical Optimum', y: 3425, o: { color: 'rgba(0,0,255,0.8)', lw: 12, dash: [26, 12], marker: 'triangle', r: 22 } }
    ];
    items.forEach(it => {
      lineHandle(ctx, 3379 - ox, 3479 - ox, it.y - oy, it.o);
      write(ctx, it.text, 3508 - ox, it.y - oy, { size: 41, align: 'left' });
    });
  }
};

new Chart(place('panelF', fLeft, fTop, 2028, 1710), {
  type: 'scatter',
  data: { datasets: [{ data: [] }] },
  options: {
    layout: { padding: { left: 0, top: 0, right: 221, bottom: 0 } },
    plugins: { title: titleBlock(['(f) Multi-dimensional Performance', 'Comparison Analysis'], 35.3, 96.9, false) },
    scales: {
      x: axis({ pos: 'bottom', min: 0, max: 1, ticks: unitTicks, fmt: v => v.toFixed(1), size: 133 }),
      y: axis({ pos: 'left', min: 0, max: 1, ticks: unitTicks, fmt: v => v.toFixed(1), size: 128 })
    }
  },
  plugins: [fOverlay]
});
</script>
</body>
</html>
